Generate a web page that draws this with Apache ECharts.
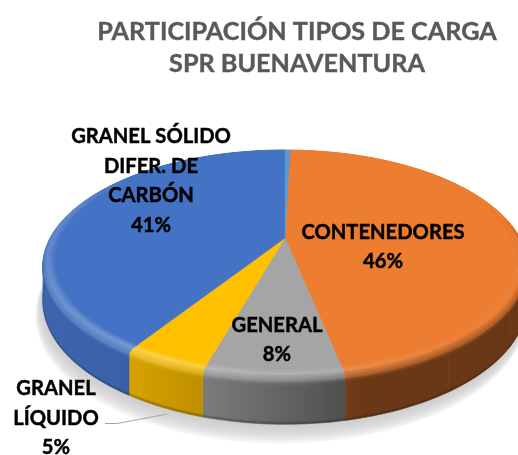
<!DOCTYPE html>
<html>
<head>
<meta charset="utf-8">
<style>html,body{margin:0;padding:0;background:#fff}#c{width:518px;height:455px}</style>
<script src="https://cdn.jsdelivr.net/npm/echarts@6/dist/echarts.min.js"></script>
</head>
<body>
<div id="c"></div>
<script>
const titleText = 'PARTICIPACIÓN TIPOS DE CARGA\nSPR BUENAVENTURA';
const categories = ['CONTENEDORES', 'GENERAL', 'GRANEL\nLÍQUIDO', 'GRANEL SÓLIDO\nDIFER. DE\nCARBÓN', 'OTROS'];
const values = [46.4, 7.6, 4.6, 41.0, 0.4];
const showLabel = [true, true, true, true, false];
const colors = ['#ED7D31', '#A5A5A5', '#FFC000', '#4472C4', '#5B9BD5'];

// Layout of the drawing (perspective view of a disc)
const FIRST_ANGLE = 1.5, CX = 285, CY = 238, RX = 236, SY = 108.8, KP = 0.2227, DEPTH = 36;
const LABEL_AT = [[383, 247], [277, 340], [56, 418], [151, 181], null];
const LEADER_ELBOW = [[105, 423.5], [117, 423.5]];

const total = values.reduce((a, b) => a + b, 0);
const bounds = []; let acc = FIRST_ANGLE;
values.forEach(v => { const s = acc; acc += v / total * 360; bounds.push([s, acc]); });

function proj(deg, r, z) {
  const t = deg * Math.PI / 180, X = r * Math.sin(t), Y = -r * Math.cos(t), w = 1 - KP * Y;
  return [CX + RX * X / w, CY + (SY * Y + DEPTH * z) / w];
}
function hex(c) { return [1, 3, 5].map(i => parseInt(c.substr(i, 2), 16)); }
function rgb(a) { return 'rgb(' + a.map(v => Math.round(v)).join(',') + ')'; }
function mix(a, b, t) { return a.map((v, i) => v + (b[i] - v) * t); }
function interp(tab, x) {
  x = ((x % 360) + 360) % 360;
  for (let i = 1; i < tab.length; i++) if (x <= tab[i][0]) {
    const p = tab[i - 1], q = tab[i];
    return p[1] + (q[1] - p[1]) * (x - p[0]) / (q[0] - p[0]);
  }
  return tab[tab.length - 1][1];
}
const wallTone = [[0, .42], [165, .45], [195, .74], [215, .86], [290, .92], [360, .9]];
const hiTone = [[0, 0], [140, 0], [180, .14], [205, .28], [290, .14], [310, 0], [360, 0]];
const bevelDark = [[0, 0], [75, 0], [115, 1], [250, 1], [285, 0], [360, 0]];

// slices are cut into chunks along which x runs one way, so a horizontal gradient can shade them
function chunks(b) {
  const out = [], cuts = [b[0]];
  [77, 283].forEach(c => { if (c > b[0] && c < b[1]) cuts.push(c); });
  cuts.push(b[1]);
  for (let k = 0; k + 1 < cuts.length; k++) {
    const n = Math.max(1, Math.ceil((cuts[k + 1] - cuts[k]) / 30));
    for (let i = 0; i < n; i++) out.push([cuts[k] + (cuts[k + 1] - cuts[k]) * i / n, cuts[k] + (cuts[k + 1] - cuts[k]) * (i + 1) / n]);
  }
  return out;
}
function strip(ch, r1, z1, r2, z2, colorAt) {
  const pts = [], back = [], stops = [], N = Math.max(2, Math.ceil((ch[1] - ch[0]) / 1.5));
  const x0 = proj(ch[0], r2, z2)[0], x1 = proj(ch[1], r2, z2)[0];
  const lo = Math.min(x0, x1), hi = Math.max(x0, x1);
  for (let i = 0; i <= N; i++) {
    const a = ch[0] + (ch[1] - ch[0]) * i / N, p = proj(a, r2, z2);
    pts.push(proj(a, r1, z1)); back.unshift(p);
    stops.push({ offset: Math.min(1, Math.max(0, (p[0] - lo) / ((hi - lo) || 1))), color: rgb(colorAt(a)) });
  }
  stops.sort((p, q) => p.offset - q.offset);
  const fill = { type: 'linear', global: true, x: lo, y: 0, x2: hi, y2: 0, colorStops: stops };
  return { type: 'polygon', silent: true, shape: { points: pts.concat(back) }, style: { fill: fill, stroke: fill, lineWidth: .6 } };
}
const BANDS = 10;
function bevelPt(u) { return [.952 + .048 * Math.min(u / .7, 1), .15 * Math.max(0, (u - .5) / .5)]; }

function shadowRings() {
  const kids = [], RINGS = 10;
  for (let k = RINGS; k >= 1; k--) {
    const pts = [];
    for (let a = 0; a < 360; a += 3) {
      const p = proj(a, 1 + .0012 * k, 1 + .036 * k);
      pts.push([p[0] - .45 * k, p[1]]);
    }
    kids.push({ type: 'polygon', silent: true, shape: { points: pts }, style: { fill: '#c8c8c8', opacity: .16 } });
  }
  return kids;
}
function renderWall(params) {
  const i = params.dataIndex, base = hex(colors[i]), kids = i === 0 ? shadowRings() : [];
  const wc = a => mix([0, 0, 0], base, interp(wallTone, a));
  chunks(bounds[i]).forEach(ch => {
    kids.push(strip(ch, 1, .1, 1, .95, wc));
    kids.push(strip(ch, 1, .95, 1, 1, a => mix(wc(a), [0, 0, 0], .2)));
  });
  return { type: 'group', children: kids };
}
function renderTop(params) {
  const i = params.dataIndex, base = hex(colors[i]), kids = [];
  const pts = [proj(0, 0, 0)], span = bounds[i][1] - bounds[i][0], n = Math.ceil(span / 2);
  for (let s = 0; s <= n; s++) pts.push(proj(bounds[i][0] + span * s / n, .955, 0));
  kids.push({ type: 'polygon', silent: true, shape: { points: pts },
    style: { fill: colors[i], stroke: colors[i], lineWidth: .5 } });
  chunks(bounds[i]).forEach(ch => {
    for (let b = 0; b < BANDS; b++) {
      const u1 = b / BANDS, u2 = (b + 1) / BANDS, u = (u1 + u2) / 2;
      const [r1, z1] = bevelPt(u1), [r2, z2] = bevelPt(u2), peak = .42;
      kids.push(strip(ch, r1, z1, r2, z2, a => {
        const wc = mix([0, 0, 0], base, interp(wallTone, a));
        const hi = mix(base, [255, 255, 255], interp(hiTone, a)), dk = interp(bevelDark, a);
        return u < peak ? mix(base, hi, u / peak) : mix(hi, mix(hi, wc, dk), (u - peak) / (1 - peak));
      }));
    }
  });
  return { type: 'group', children: kids };
}
function renderLabel(params) {
  const i = params.dataIndex;
  if (!showLabel[i]) return null;
  const pct = Math.round(values[i] / total * 100) + '%';
  const kids = [{
    type: 'text', silent: true, x: LABEL_AT[i][0], y: LABEL_AT[i][1],
    style: { text: categories[i] + '\n' + pct, fill: '#000', stroke: '#000', lineWidth: .45, align: 'center', verticalAlign: 'middle',
      font: 'bold 20.2px Lato, Carlito, sans-serif', lineHeight: 29.5 }
  }];
  if (i === 2) {
    const mid = (bounds[i][0] + bounds[i][1]) / 2 - 1.6;
    kids.push({ type: 'polyline', silent: true,
      shape: { points: LEADER_ELBOW.concat([proj(mid, 1.025, 1)]) },
      style: { stroke: '#A6A6A6', lineWidth: 1, fill: null } });
  }
  return { type: 'group', children: kids };
}
const base = { type: 'custom', coordinateSystem: 'none', silent: true, animation: false, clip: false };
const chart = echarts.init(document.getElementById('c'), null, { renderer: 'canvas' });
chart.setOption({
  animation: false,
  backgroundColor: '#fff',
  title: {
    text: titleText, left: 292, top: 11, textAlign: 'center',
    textStyle: { color: '#595959', fontFamily: 'Lato, Carlito, sans-serif', fontWeight: 'bold', fontSize: 25.2, lineHeight: 32,
      textBorderColor: '#595959', textBorderWidth: .4 }
  },
  series: [
    Object.assign({}, base, { name: 'pared', z: 2, data: values, renderItem: renderWall }),
    Object.assign({}, base, { name: 'tapa', z: 3, data: values, renderItem: renderTop }),
    Object.assign({}, base, { name: 'etiquetas', z: 4, data: values, renderItem: renderLabel })
  ]
});
</script>
</body>
</html>
